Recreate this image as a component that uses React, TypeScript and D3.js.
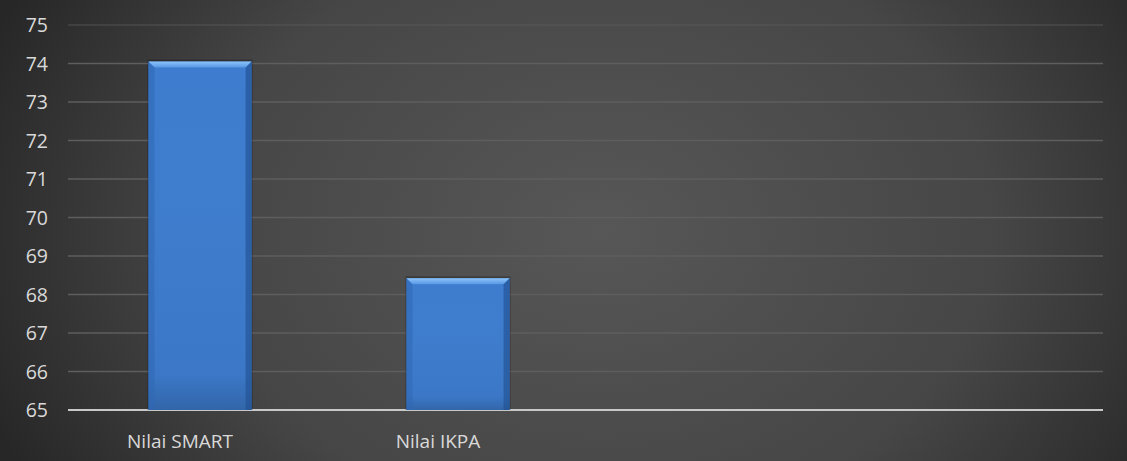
import React from "react";
import * as d3 from "d3";

const categories = ["Nilai SMART", "Nilai IKPA", "", " "];
const values: (number | null)[] = [74.05, 68.42, null, null];
const yTicks = [65, 66, 67, 68, 69, 70, 71, 72, 73, 74, 75];

const W = 1127;
const H = 461;
const margin = { left: 68, right: 24, top: 25, bottom: 51 };

export default function App() {
  const x = d3
    .scaleBand<string>()
    .domain(categories)
    .range([margin.left + 3, W - margin.right])
    .paddingInner(0.6)
    .paddingOuter(0.3);
  const y = d3
    .scaleLinear()
    .domain([65, 75])
    .range([H - margin.bottom, margin.top]);
  const bw = x.bandwidth();
  const bev = 6;
  const font = "'Open Sans', 'Noto Sans', sans-serif";

  return (
    <svg
      width={W}
      height={H}
      style={{ position: "absolute", left: 0, top: 0, display: "block" }}
    >
      <defs>
        <radialGradient
          id="bg"
          gradientUnits="userSpaceOnUse"
          cx={600}
          cy={230}
          r={660}
          gradientTransform="translate(600,230) scale(1,0.75) translate(-600,-230)"
        >
          <stop offset="0" stopColor="#575757" />
          <stop offset="0.6" stopColor="#464646" />
          <stop offset="1" stopColor="#272727" />
        </radialGradient>
        <linearGradient id="barH" x1="0" x2="1" y1="0" y2="1" gradientTransform="rotate(0)">
          <stop offset="0" stopColor="#2a5fa6" />
          <stop offset="0.06" stopColor="#3b78c8" />
          <stop offset="0.5" stopColor="#4080d2" />
          <stop offset="0.94" stopColor="#3b78c8" />
          <stop offset="1" stopColor="#24589c" />
        </linearGradient>
        <linearGradient id="barV" x1="0" x2="0" y1="0" y2="1">
          <stop offset="0" stopColor="#ffffff" stopOpacity="0" />
          <stop offset="0.9" stopColor="#000000" stopOpacity="0.04" />
          <stop offset="1" stopColor="#000000" stopOpacity="0.18" />
        </linearGradient>
        <linearGradient id="bevTop" x1="0" x2="0" y1="0" y2="1">
          <stop offset="0" stopColor="#8cc4fa" />
          <stop offset="1" stopColor="#5797e4" />
        </linearGradient>
      </defs>
      <rect x={0} y={0} width={W} height={H} fill="url(#bg)" />

      {yTicks.map((t) => (
        <line
          key={t}
          x1={margin.left}
          x2={W - margin.right}
          y1={y(t)}
          y2={y(t)}
          stroke={t === 65 ? "#c8c8c8" : "#5e5e5e"}
          strokeWidth={t === 65 ? 2 : 1.3}
          strokeOpacity={t === 75 ? 0.5 : 1}
        />
      ))}

      {categories.map((c, i) => {
        const v = values[i];
        if (v == null) return null;
        const x0 = x(c)!;
        const x1 = x0 + bw;
        const top = y(v);
        const bot = y(65);
        return (
          <g key={c}>
            <rect
              x={x0 - 1}
              y={top - 2}
              width={bw + 2}
              height={bot - top + 2}
              fill="#000"
              opacity={0.25}
            />
            <rect x={x0} y={top} width={bw} height={bot - top} fill="#3d7cce" />
            <rect
              x={x0}
              y={top}
              width={bw}
              height={bot - top}
              fill="url(#barV)"
            />
            <polygon
              points={`${x0},${top} ${x1},${top} ${x1 - bev},${top + bev} ${x0 + bev},${top + bev}`}
              fill="url(#bevTop)"
            />
            <polygon
              points={`${x0},${top} ${x0 + bev},${top + bev} ${x0 + bev},${bot} ${x0},${bot}`}
              fill="#2f68b4"
              opacity={0.55}
            />
            <polygon
              points={`${x1},${top} ${x1 - bev},${top + bev} ${x1 - bev},${bot} ${x1},${bot}`}
              fill="#1f4f90"
              opacity={0.6}
            />
          </g>
        );
      })}

      {yTicks.map((t) => (
        <text
          key={"l" + t}
          x={48}
          y={y(t)}
          dy="0.36em"
          textAnchor="end"
          fill="#d9d9d9"
          fontFamily={font}
          fontSize={19.5}
        >
          {t}
        </text>
      ))}

      {categories.map((c) =>
        c.trim() ? (
          <text
            key={"c" + c}
            x={x(c)! + bw / 2 - 20}
            y={448}
            textAnchor="middle"
            fill="#d9d9d9"
            fontFamily={font}
            fontSize={19}
          >
            {c}
          </text>
        ) : null
      )}
    </svg>
  );
}
